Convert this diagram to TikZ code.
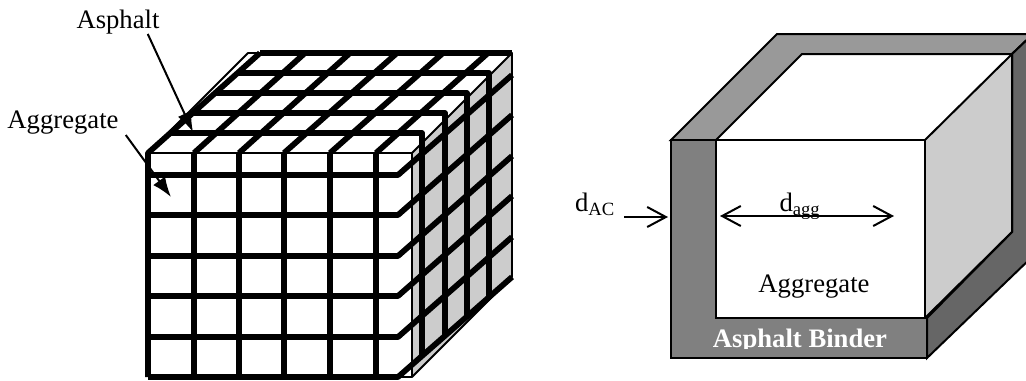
\documentclass[tikz,border=0pt]{standalone}
\usepackage{fontspec}
\setmainfont{Liberation Serif}
\usetikzlibrary{arrows.meta}

\begin{document}
\begin{tikzpicture}[x=0.75pt, y=-0.75pt, font=\fontsize{20}{24}\selectfont]
    \tikzstyle{gridline} = [black, line width=4.3pt, line join=round]
    \tikzstyle{thinline} = [black, line width=1.4pt, line join=round]
    \tikzstyle{cubeline} = [draw=black, line width=1.5pt, line join=miter]
    \tikzstyle{pointer} = [line width=1.5pt, -{Latex[length=15pt, width=11pt]}]
    \tikzstyle{measure} = [line width=1.5pt, {Straight Barb[length=14pt, width=15pt, line width=1.5pt]}-{Straight Barb[length=14pt, width=15pt, line width=1.5pt]}]
    \tikzstyle{label} = [anchor=base, inner sep=0pt]

    \clip (0,0) rectangle (1026,380);

    % left cube
    \fill [gray!40!white] (412,153) -- (512,53) -- (512,277) -- (412,377) -- cycle;
    \fill [white] (148,153) rectangle (412,377);
    \draw [thinline] (148,153) -- (248,53) -- (262,53);
    \draw [thinline] (148,153) -- (412,153) -- (512,53) -- (512,277) -- (412,377) -- (398,377);
    \draw [thinline] (412,153) -- (412,377);

    \foreach \x/\xend in {194/305, 239/350, 284/397, 330/443, 376/488}
        \draw [gridline] (\x,153) -- (\x,377) (\x,153) -- (\xend,53);
    \foreach \y in {175, 215, 256, 296, 337, 377}
        \draw [gridline] (148,\y) -- (398,\y) -- (512,\y-100);
    \foreach \xstart/\y/\xend/\yend in {260/53/512/53, 238/73/489/297, 215/93/467/316, 193/113/445/336, 170/133/422/356}
        \draw [gridline] (\xstart,\y) -- (\xend,\y) -- (\xend,\yend);
    \draw [gridline] (148,377) -- (148,153) -- (260,53);

    \node [label] (asphaltlabel) at (118,28) {Asphalt};
    \node [label] (grainlabel) at (63,128) {Aggregate};
    \coordinate (asphalttip) at (193,132);
    \coordinate (graintip) at (171,197);
    \draw [pointer] (asphaltlabel.south east) ++(-12,0) -- (asphalttip);
    \draw [pointer] (grainlabel.south east) ++(7,1) -- (graintip);

    % right cube
    \fill [gray!40!white] (925,140) -- (1012,54) -- (1012,232) -- (925,318) -- cycle;
    \filldraw [cubeline, fill=black!40] (671,140) -- (777,34) -- (1033,34) -- (1012,54) -- (802,54) -- (716,140) -- cycle;
    \filldraw [cubeline, fill=black!60] (1033,34) -- (1033,256) -- (927,358) -- (927,318) -- (1012,232) -- (1012,54) -- cycle;
    \draw [cubeline] (925,140) -- (1012,54) -- (1012,232) -- (925,318);
    \filldraw [cubeline, fill=black!50] (671,140) -- (716,140) -- (716,318) -- (927,318) -- (927,358) -- (671,358) -- cycle;
    \draw [cubeline] (716,140) -- (925,140) -- (925,318);

    \node [label] (grain) at (814,292) {Aggregate};
    \begin{scope}
        \clip (700,320) rectangle (900,348);
        \node [label, text=white, font=\fontsize{20}{24}\selectfont\bfseries] (binder) at (800,347) {Asphalt Binder};
    \end{scope}

    \node [label] (dac) at (595,211) {d\textsubscript{AC}};
    \node [label] (dagg) at (800,211) {d\textsubscript{agg}};
    \coordinate (dacstart) at (624,217);
    \coordinate (dacend) at (668,217);
    \coordinate (dagga) at (720,216);
    \coordinate (daggb) at (894,216);
    \draw [line width=1.5pt, -{Straight Barb[length=14pt, width=15pt, line width=1.5pt]}] (dacstart) -- (dacend);
    \draw [measure] (dagga) -- (daggb);
\end{tikzpicture}
\end{document}
